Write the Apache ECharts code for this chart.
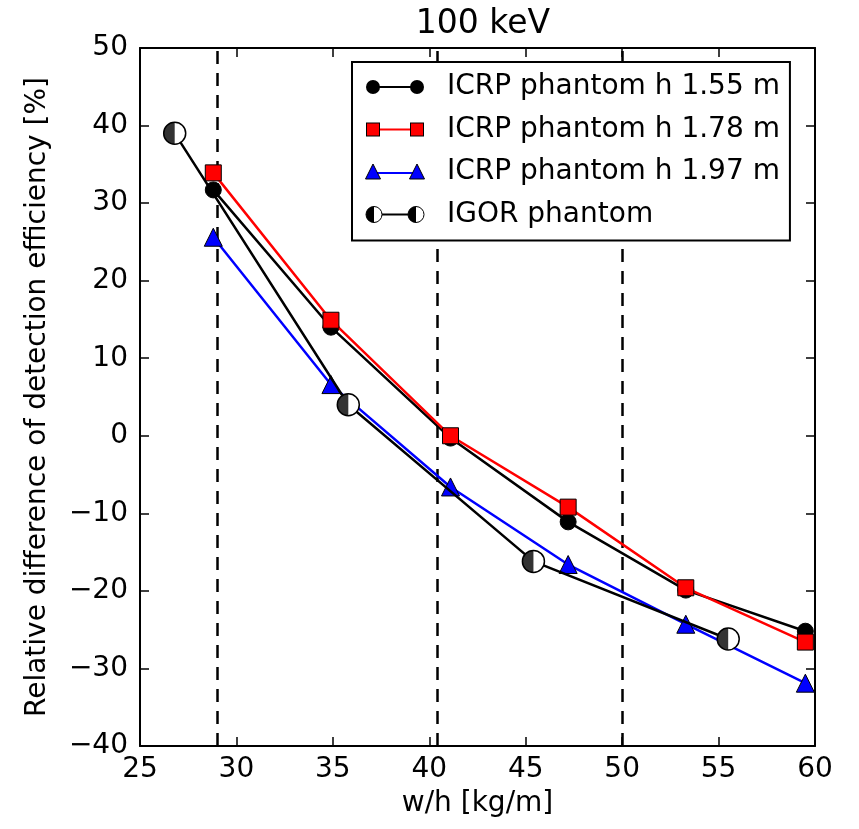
<!DOCTYPE html>
<html>
<head>
<meta charset="utf-8">
<script src="https://cdn.jsdelivr.net/npm/echarts@6/dist/echarts.min.js"></script>
<style>
  html, body { margin: 0; padding: 0; background: #FFFFFF; }
  #chart { width: 859px; height: 829px; }
</style>
</head>
<body>
<div id="chart"></div>
<script>
// data
var xIcrp = [28.8, 34.9, 41.1, 47.2, 53.3, 59.5];
var yIcrp155 = [31.7, 14.0, -0.3, -11.1, -19.9, -25.2];
var yIcrp178 = [33.9, 14.9, 0.0, -9.2, -19.6, -26.6];
var yIcrp197 = [25.6, 6.6, -6.6, -16.6, -24.3, -31.9];
var xIgor = [26.8, 35.8, 45.4, 55.5];
var yIgor = [39.0, 4.0, -16.2, -26.2];
var dashedX = [29, 40.4, 50];
var seriesNames = ['ICRP phantom h 1.55 m', 'ICRP phantom h 1.78 m', 'ICRP phantom h 1.97 m', 'IGOR phantom'];

var FONT = 'DejaVu Sans';

function pairs(xs, ys) {
  return xs.map(function (x, i) { return [x, ys[i]]; });
}
function minus(v) {
  return String(v).replace('-', '\u2212');
}

// legend icons: a line with one marker at each end, like matplotlib
function svgIcon(body) {
  var svg = '<svg xmlns="http://www.w3.org/2000/svg" width="60" height="22" viewBox="0 0 60 22">' + body + '</svg>';
  return 'image://data:image/svg+xml;charset=utf-8,' + encodeURIComponent(svg);
}
var iconCircle = svgIcon(
  '<line x1="8" y1="11" x2="52" y2="11" stroke="#000" stroke-width="2"/>' +
  '<circle cx="8" cy="11" r="7" fill="#000"/><circle cx="52" cy="11" r="7" fill="#000"/>');
var iconSquare = svgIcon(
  '<line x1="8" y1="11" x2="52" y2="11" stroke="#f00" stroke-width="2"/>' +
  '<rect x="1.5" y="4.5" width="13" height="13" fill="#f00" stroke="#000"/>' +
  '<rect x="45.5" y="4.5" width="13" height="13" fill="#f00" stroke="#000"/>');
var iconTriangle = svgIcon(
  '<line x1="8" y1="12" x2="52" y2="12" stroke="#00f" stroke-width="2"/>' +
  '<polygon points="8,3 0.5,18 15.5,18" fill="#00f" stroke="#000"/>' +
  '<polygon points="52,3 44.5,18 59.5,18" fill="#00f" stroke="#000"/>');
var iconHalf = svgIcon(
  '<line x1="9" y1="11" x2="51" y2="11" stroke="#000" stroke-width="2"/>' +
  '<circle cx="9" cy="11" r="8" fill="#fff" stroke="#000"/><path d="M9,3 A8,8 0 0,0 9,19 Z" fill="#000"/>' +
  '<circle cx="51" cy="11" r="8" fill="#fff" stroke="#000"/><path d="M51,3 A8,8 0 0,0 51,19 Z" fill="#000"/>');

var chart = echarts.init(document.getElementById('chart'));

var axisBase = {
  axisLine: { show: true, onZero: false, lineStyle: { color: '#000', width: 2 } },
  axisTick: { show: true, inside: true, length: 9, lineStyle: { color: '#000', width: 1.5 } },
  splitLine: { show: false }
};

chart.setOption({
  animation: false,
  backgroundColor: '#FFFFFF',
  title: {
    text: '100 keV',
    left: 478,
    top: 3,
    textAlign: 'center',
    textStyle: { fontFamily: FONT, fontSize: 33, fontWeight: 'normal', color: '#000' }
  },
  grid: { left: 140, right: 44, top: 48, bottom: 83 },
  legend: {
    data: [
      { name: seriesNames[0], icon: iconCircle },
      { name: seriesNames[1], icon: iconSquare },
      { name: seriesNames[2], icon: iconTriangle },
      { name: seriesNames[3], icon: iconHalf }
    ],
    orient: 'vertical',
    left: 352,
    top: 62,
    padding: [11, 10, 12, 13],
    itemWidth: 60,
    itemHeight: 22,
    itemGap: 14.5,
    backgroundColor: '#FFFFFF',
    borderColor: '#000',
    borderWidth: 2,
    borderRadius: 0,
    textStyle: { fontFamily: FONT, fontSize: 28, color: '#000', lineHeight: 28, padding: [0, 0, 0, 17] },
    z: 10
  },
  xAxis: [
    Object.assign({}, axisBase, {
      type: 'value', min: 25, max: 60, interval: 5, position: 'bottom',
      name: 'w/h [kg/m]', nameLocation: 'middle', nameGap: 44,
      nameTextStyle: { fontFamily: FONT, fontSize: 28, color: '#000' },
      axisLabel: { fontFamily: FONT, fontSize: 28, color: '#000', margin: 10 }
    }),
    Object.assign({}, axisBase, {
      type: 'value', min: 25, max: 60, interval: 5, position: 'top',
      axisLabel: { show: false }
    })
  ],
  yAxis: [
    Object.assign({}, axisBase, {
      type: 'value', min: -40, max: 50, interval: 10, position: 'left',
      name: 'Relative difference of detection efficiency [%]',
      nameLocation: 'middle', nameGap: 88, nameRotate: 90,
      nameTextStyle: { fontFamily: FONT, fontSize: 28, color: '#000' },
      axisLabel: { fontFamily: FONT, fontSize: 28, color: '#000', margin: 12, formatter: minus }
    }),
    Object.assign({}, axisBase, {
      type: 'value', min: -40, max: 50, interval: 10, position: 'right',
      axisLabel: { show: false }
    })
  ],
  series: [
    {
      name: seriesNames[0],
      type: 'line',
      data: pairs(xIcrp, yIcrp155),
      symbol: 'circle',
      symbolSize: 16,
      itemStyle: { color: '#000', borderColor: '#000', borderWidth: 1 },
      lineStyle: { color: '#000', width: 2.5 },
      z: 3,
      markLine: {
        silent: true,
        symbol: 'none',
        label: { show: false },
        lineStyle: { color: '#000', width: 2.5, type: [13, 9] },
        data: dashedX.map(function (x) { return { xAxis: x }; }),
        z: 1
      }
    },
    {
      name: seriesNames[1],
      type: 'line',
      data: pairs(xIcrp, yIcrp178),
      symbol: 'rect',
      symbolSize: 16,
      itemStyle: { color: '#FF0000', borderColor: '#000', borderWidth: 1 },
      lineStyle: { color: '#FF0000', width: 2.5 },
      z: 4
    },
    {
      name: seriesNames[2],
      type: 'line',
      data: pairs(xIcrp, yIcrp197),
      symbol: 'triangle',
      symbolSize: 18,
      itemStyle: { color: '#0000FF', borderColor: '#000', borderWidth: 1 },
      lineStyle: { color: '#0000FF', width: 2.5 },
      z: 5
    },
    {
      name: seriesNames[3],
      type: 'line',
      data: pairs(xIgor, yIgor),
      symbol: 'circle',
      symbolSize: 22,
      itemStyle: { color: '#FFFFFF', borderColor: '#000', borderWidth: 1.5 },
      lineStyle: { color: '#000', width: 2.5 },
      z: 6
    },
    {
      // left (filled) half of the IGOR markers
      name: 'igor-half',
      type: 'scatter',
      data: pairs(xIgor, yIgor),
      symbol: 'path://M50,0 A50,50 0 0,0 50,100 Z',
      symbolKeepAspect: false,
      symbolSize: [11, 22],
      symbolOffset: [-5.5, 0],
      itemStyle: { color: '#000' },
      silent: true,
      z: 7
    }
  ]
});
</script>
</body>
</html>
